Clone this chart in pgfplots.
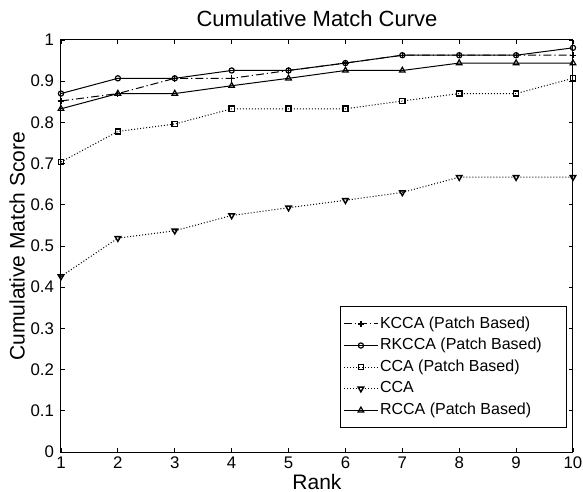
\documentclass[border=0pt]{standalone}
\usepackage{pgfplots}
\pgfplotsset{compat=1.18}
\usepackage{fontspec}
\setmainfont{Liberation Sans}

\begin{document}
\begin{tikzpicture}
\path[use as bounding box] (-30.5pt,-20pt) rectangle (261pt,226pt);
\begin{axis}[
  scale only axis,
  width=256pt, height=206pt,
  xmin=1, xmax=10, ymin=0, ymax=1,
  xtick={1,...,10},
  ytick={0,0.1,...,1.01},
  yticklabel style={/pgf/number format/fixed,/pgf/number format/precision=1},
  /pgf/number format/assume math mode=true,
  tick align=inside,
  major tick length=2pt,
  tick style={black, line width=0.4pt},
  axis line style={line width=0.5pt},
  ticklabel style={font=\fontsize{8.4}{10}\selectfont},
  xticklabel style={yshift=1pt},
  title={Cumulative Match Curve},
  title style={font=\fontsize{11}{13}\selectfont, yshift=-3pt},
  xlabel={Rank},
  ylabel={Cumulative Match Score},
  label style={font=\fontsize{10.5}{12}\selectfont},
  xlabel style={yshift=4pt},
  ylabel style={yshift=-4pt},
  legend image code/.code={\draw[mark repeat=2,mark phase=2,#1]
    plot coordinates {(0pt,0pt) (8.5pt,0pt) (17pt,0pt)};},
  legend style={at={(0.988,0.058)}, anchor=south east,
    font=\fontsize{8}{10}\selectfont, draw=black, line width=0.4pt,
    row sep=1.4pt, inner xsep=1.5pt, inner ysep=4pt,
    nodes={inner sep=0.8pt, text height=6pt, text depth=1.8pt},
    cells={anchor=west}},
  legend cell align=left,
  every axis plot/.append style={black, line width=0.5pt},
]
\addplot[dash pattern=on 4pt off 1.5pt on 0.6pt off 1.5pt, mark=+, mark size=1.6pt,
  mark options={solid, line width=0.6pt}] coordinates {
(1,0.852) (2,0.870) (3,0.907) (4,0.907) (5,0.926)
(6,0.944) (7,0.963) (8,0.963) (9,0.963) (10,0.963)
};
\addlegendentry{KCCA (Patch Based)}
\addplot[solid, mark=o, mark size=1.3pt, mark options={line width=0.6pt}] coordinates {
(1,0.870) (2,0.907) (3,0.907) (4,0.926) (5,0.926)
(6,0.944) (7,0.963) (8,0.963) (9,0.963) (10,0.981)
};
\addlegendentry{RKCCA (Patch Based)\rule{10pt}{0pt}}
\addplot[dash pattern=on 0.5pt off 1pt, mark=square, mark size=1.3pt,
  mark options={solid, line width=0.7pt}] coordinates {
(1,0.704) (2,0.778) (3,0.796) (4,0.833) (5,0.833)
(6,0.833) (7,0.852) (8,0.870) (9,0.870) (10,0.907)
};
\addlegendentry{CCA (Patch Based)}
\addplot[dash pattern=on 0.5pt off 1pt, mark=triangle, mark size=1.6pt,
  mark options={solid, rotate=180, line width=0.7pt}] coordinates {
(1,0.426) (2,0.519) (3,0.537) (4,0.574) (5,0.593)
(6,0.611) (7,0.630) (8,0.667) (9,0.667) (10,0.667)
};
\addlegendentry{CCA}
\addplot[solid, mark=triangle, mark size=1.6pt, mark options={line width=0.6pt}] coordinates {
(1,0.833) (2,0.870) (3,0.870) (4,0.889) (5,0.907)
(6,0.926) (7,0.926) (8,0.944) (9,0.944) (10,0.944)
};
\addlegendentry{RCCA (Patch Based)}
\end{axis}
\end{tikzpicture}
\end{document}
